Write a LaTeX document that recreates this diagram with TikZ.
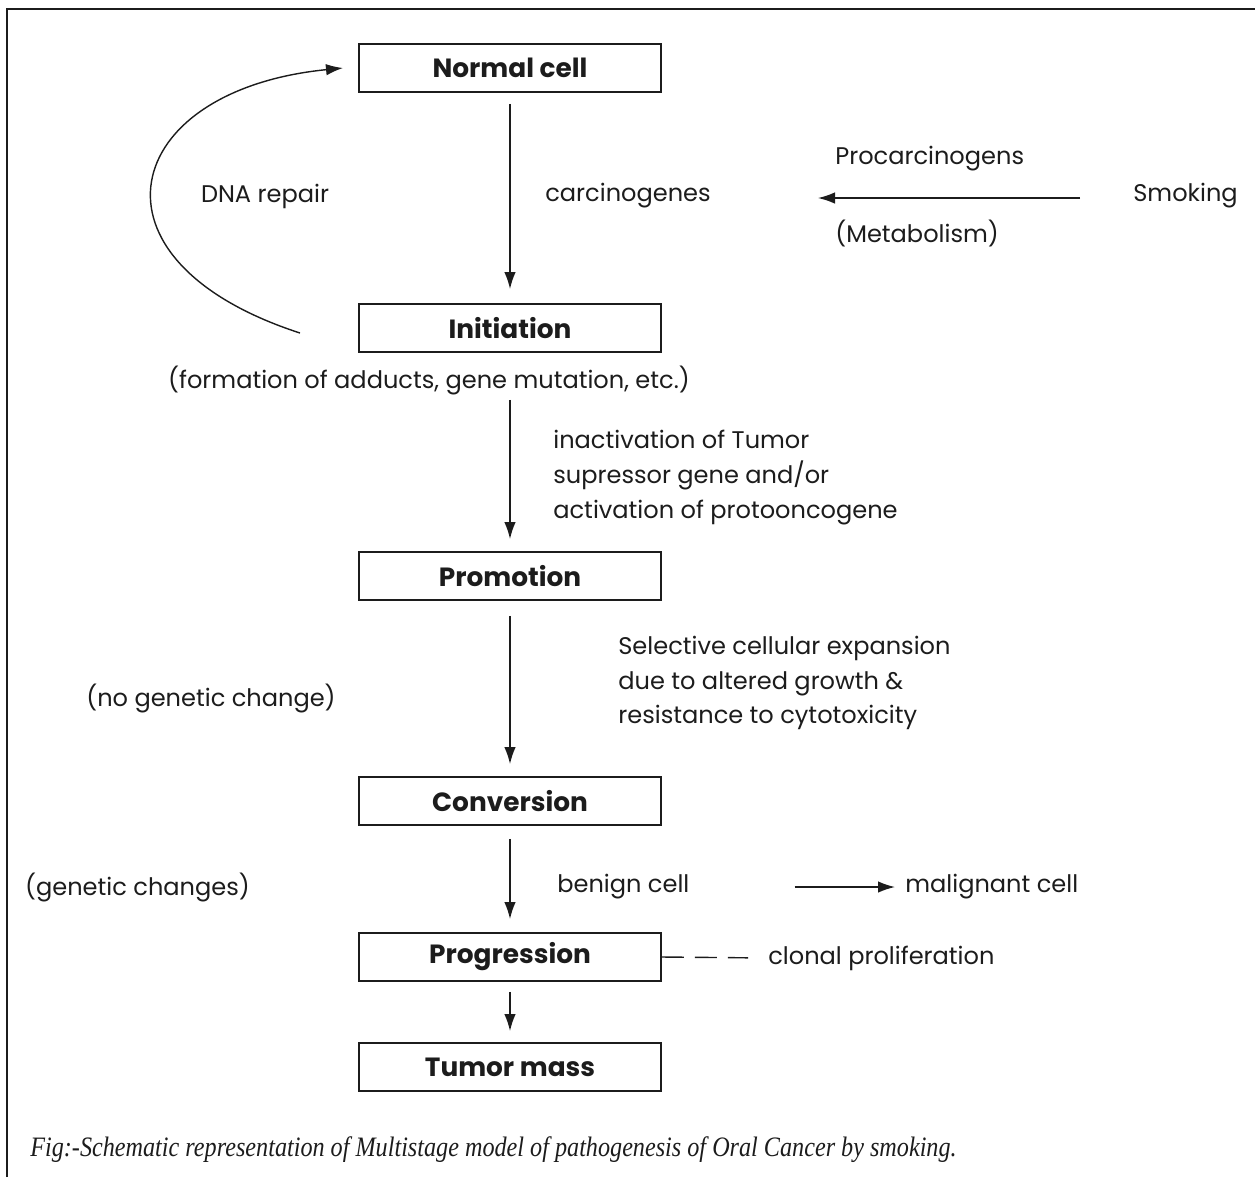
\documentclass[tikz,border=0pt]{standalone}
\usepackage{fontspec}
\setmainfont{Poppins}
\newfontfamily\capfont[FakeStretch=0.86]{Liberation Serif}
\usetikzlibrary{arrows.meta}
\definecolor{ink}{HTML}{1C1C1C}
\tikzset{stagebox/.style = {shape = rectangle, draw = ink, line width = 1.1pt, minimum width = 6.04cm, minimum height = 0.96cm, font = \fontsize{15}{18}\selectfont\bfseries, text = ink}}
\tikzset{lbl/.style = {font = \fontsize{13.7}{19.8}\selectfont, text = ink, align = left, inner sep = 0pt}}
\tikzset{edge/.style = {draw = ink, line width = 0.8pt, -{Latex[length = 3.4mm, width = 2.3mm]}}}

\begin{document}
\begin{tikzpicture}
			\useasboundingbox (0, 0) rectangle (25.1, -23.54);
			% frame of the scanned page
			\draw[ink, line width = 1.2pt] (0.14, -23.54) -- (0.14, -0.18) -- (25.1, -0.18);

			\node[stagebox] (nc) at (10.2, -1.36) {Normal cell};
			\node[stagebox] (ini) at (10.2, -6.56) {Initiation};
			\node[stagebox] (pro) at (10.2, -11.52) {Promotion};
			\node[stagebox] (con) at (10.2, -16.02) {Conversion};
			\node[stagebox] (prg) at (10.2, -19.14) {Progression};
			\node[stagebox] (tum) at (10.2, -21.34) {Tumor mass};

			\node[lbl] (dna) at (5.3, -3.92) {DNA repair};
			\node[lbl, anchor = west] (carc) at (10.9, -3.92) {carcinogenes};
			\node[lbl, anchor = west] (proc) at (16.7, -3.18) {Procarcinogens};
			\node[lbl, anchor = west] (meta) at (16.7, -4.66) {(Metabolism)};
			\node[lbl, anchor = west] (smk) at (22.66, -3.92) {Smoking};
			\node[lbl] (form) at (8.58, -7.6) {(formation of adducts, gene mutation, etc.)};
			\node[lbl, anchor = west] (inact) at (11.06, -9.55) {inactivation of Tumor\\supressor gene and/or\\activation of protooncogene};
			\node[lbl] (nogen) at (4.22, -13.96) {(no genetic change)};
			\node[lbl, anchor = west] (sel) at (12.36, -13.66) {Selective cellular expansion\\due to altered growth \&\\resistance to cytotoxicity};
			\node[lbl] (gen) at (2.75, -17.74) {(genetic changes)};
			\node[lbl, anchor = west] (ben) at (11.14, -17.74) {benign cell};
			\node[lbl, anchor = west] (mal) at (18.1, -17.74) {malignant cell};
			\node[lbl, anchor = west] (clon) at (15.36, -19.16) {clonal proliferation};
			\node[anchor = west, inner sep = 0pt, text = ink, font = \capfont\fontsize{16}{18}\selectfont\itshape] (cap) at (0.6, -23.0) {Fig:-Schematic representation of Multistage model of pathogenesis of Oral Cancer by smoking.};

			\coordinate (smkend) at (21.6, -3.96);
			\coordinate (metend) at (16.36, -3.96);
			\coordinate (repair) at (6.0, -6.66);
			\coordinate (back) at (6.86, -1.36);

			\draw[edge, shorten <= 0.22cm, shorten >= 0.28cm] (nc) to (ini);
			\draw[edge, shorten <= 0.1cm, shorten >= 0.24cm] (form.south -| ini.south) to (pro);
			\draw[edge, shorten <= 0.3cm, shorten >= 0.24cm] (pro) to (con);
			\draw[edge, shorten <= 0.26cm, shorten >= 0.26cm] (con) to (prg);
			\draw[edge, shorten <= 0.2cm, shorten >= 0.22cm] (prg) to (tum);
			\draw[edge] (smkend) to (metend);
			\draw[edge, shorten <= 2.1cm, shorten >= 0.2cm] (ben.east) to (mal.west);
			\draw[ink, line width = 0.8pt, dash pattern = on 0.44cm off 0.22cm, shorten >= 0.4cm] (prg.east) to (clon.west);
			\draw[edge] (repair) .. controls (1.5, -5.2) and (2.4, -1.8) .. (back);
		\end{tikzpicture}
\end{document}
